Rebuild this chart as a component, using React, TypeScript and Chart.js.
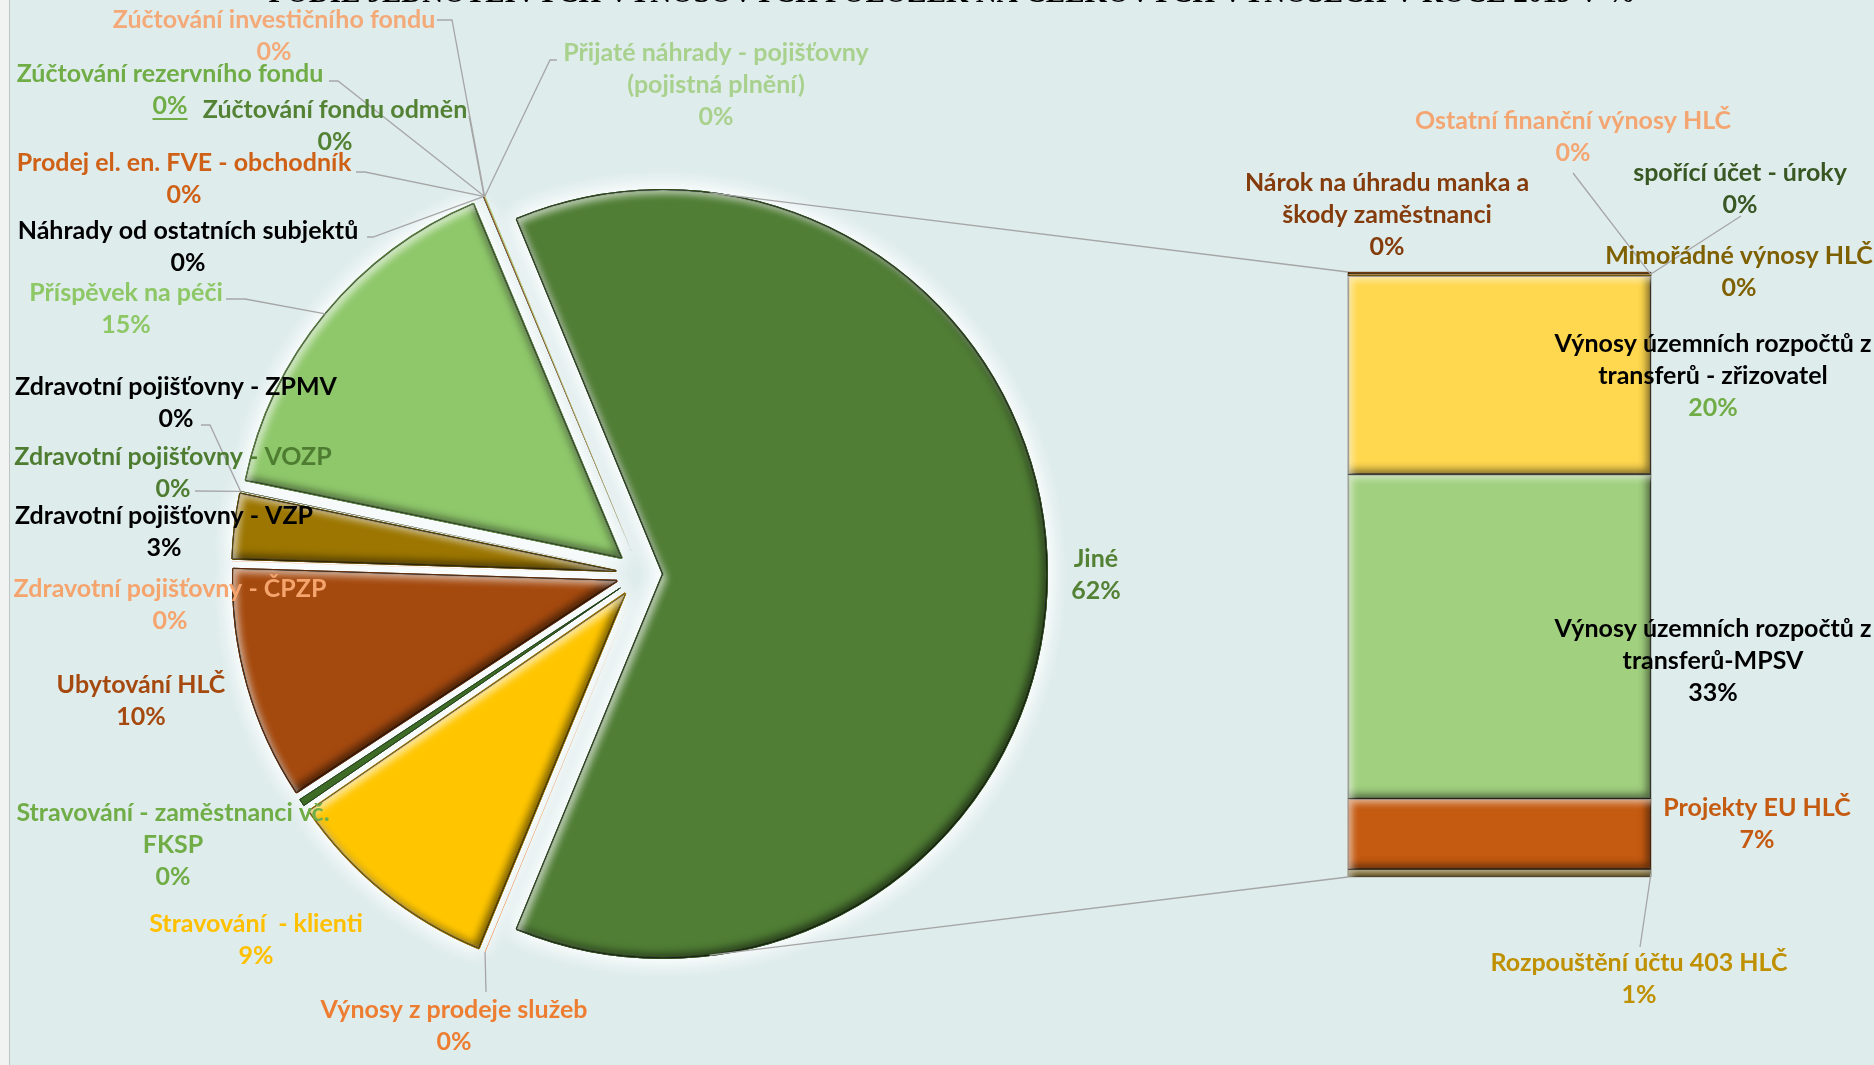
import React, { useEffect, useRef } from "react";
import { Chart, registerables } from "chart.js";

Chart.register(...registerables);

const W = 1874;
const H = 1065;

const TITLE = "PODÍL JEDNOTLIVÝCH VÝNOSOVÝCH POLOŽEK NA CELKOVÝCH VÝNOSECH V ROCE 2019 V %";

// ---- DATA ----
const otherCategory = "Jiné";
// primary pie categories, clockwise after "Jiné"
const pieCategories = [
  "Výnosy z prodeje služeb",
  "Stravování  - klienti",
  "Stravování - zaměstnanci vč.\nFKSP",
  "Ubytování HLČ",
  "Zdravotní pojišťovny - ČPZP",
  "Zdravotní pojišťovny - VZP",
  "Zdravotní pojišťovny - VOZP",
  "Zdravotní pojišťovny - ZPMV",
  "Příspěvek na péči",
  "Náhrady od ostatních subjektů",
  "Prodej el. en. FVE - obchodník",
  "Zúčtování fondu odměn",
  "Zúčtování rezervního fondu",
  "Zúčtování investičního fondu",
  "Přijaté náhrady - pojišťovny\n(pojistná plnění)",
];
const pieValues = [0.01, 9.1, 0.3, 9.7, 0.01, 2.7, 0.01, 0.01, 15.3, 0.02, 0.02, 0.01, 0.01, 0.01, 0.02];

// secondary bar categories, bottom to top
const barCategories = [
  "Rozpouštění účtu 403 HLČ",
  "Projekty EU HLČ",
  "Výnosy územních rozpočtů z\ntransferů-MPSV",
  "Výnosy územních rozpočtů z\ntransferů - zřizovatel",
  "Mimořádné výnosy HLČ",
  "Ostatní finanční výnosy HLČ",
  "spořící účet - úroky",
  "Nárok na úhradu manka a\nškody zaměstnanci",
];
const barValues = [0.8, 7.2, 33.2, 20.3, 0.1, 0.05, 0.1, 0.15];

// ---- STYLES / LAYOUT ----
const FONT = '700 25px Lato, "Noto Sans", sans-serif';
const LH = 32;
const LEADER = "#A6A6A6";

const PIE_CENTER = [641, 574];
const PIE_RADIUS = 384;

// index 0 = Jiné, then pieCategories
const pieColors = ["#507E35", "#ED7D31", "#FFC600", "#3E6B26", "#A54A0F", "#F4B183", "#9C7600", "#548235", "#2F2F2F", "#8FC86B", "#3F3F3F", "#C55A11", "#548235", "#70AD47", "#F4B183", "#A9D18E"];
const pieBorders = ["#2C4A1C", "#8A4512", "#9A7400", "#22401A", "#5E2A07", "#9A6A48", "#5A4400", "#2F4A1E", "#111111", "#557E3C", "#222222", "#6E320A", "#2F4A1E", "#40672A", "#9A6A48", "#6C8A58"];
const pieBorderWidths = [2, 0, 2, 1, 2, 0, 2, 0, 0, 2, 0, 0, 0, 0, 0, 0];
const pieExplode = [22, 25, 25, 25, 25, 25, 25, 25, 25, 25, 25, 25, 25, 25, 25, 25];
const pieLabelPos = [
  [1096, 559], [454, 1010], [256, 924], [173, 813], [141, 685], [170, 589], [164, 516], [173, 457],
  [176, 387], [126, 293], [188, 231], [184, 163], [335, 110], [170, 74], [274, 20], [716, 53],
];
const pieLabelColors = ["#548235", "#ED7D31", "#FFC000", "#70AD47", "#A5490F", "#F4A46C", "#000000", "#4E7D32", "#000000", "#8DC766", "#000000", "#CF6117", "#548235", "#70AD47", "#F4A978", "#A9D18E"];
const pieLeaders: (number[][] | null)[] = [
  null, [[486, 992]], null, null, null, null, null, [[195, 491]],
  [[201, 425], [210, 425]], [[226, 299], [245, 299]], [[367, 237], [373, 237]], [[356, 172], [365, 172]],
  [[469, 116]], [[329, 81], [338, 81]], [[437, 20], [452, 20]], [[557, 60], [550, 60]],
];
const pieUnderline = [false, false, false, false, false, false, false, false, false, false, false, false, false, true, false, false];

const BAR_BOX = { left: 1348, right: 1651, top: 272, bottom: 877 };
const barColors = ["#7F6000", "#C55A11", "#A1D07F", "#FFD84F", "#7F6000", "#F4B183", "#385723", "#843C0C"];
const barBorders = ["#4A3800", "#5E2A07", "#3E4A36", "#4A4030", "#4A3800", "#9A6A48", "#1F3012", "#4A2006"];
const barLabelPos = [[1639, 963], [1757, 808], [1713, 629], [1713, 344], [1739, 256], [1573, 121], [1740, 173], [1387, 183]];
const barLabelColors = ["#BF9000", "#C55A11", "#000000", "#000000", "#7F6000", "#F4A672", "#385723", "#843C0C"];
const barPctColors = [null, null, null, "#70AD47", null, null, null, null];
const barLeaders: (number[][] | null)[] = [[[1640, 947]], null, null, null, null, [[1573, 173]], [[1741, 216]], null];

const otherValue = barValues.reduce((a, b) => a + b, 0);
const total = otherValue + pieValues.reduce((a, b) => a + b, 0);
const pct = (v: number) => Math.round((v / total) * 100) + "%";

function drawLabel(ctx: CanvasRenderingContext2D, text: string, p: string, x: number, y: number, color: string, pctColor?: string | null, underline?: boolean) {
  const lines = text.split("\n");
  lines.push(p);
  ctx.save();
  ctx.font = FONT;
  ctx.textAlign = "center";
  ctx.textBaseline = "middle";
  lines.forEach((ln, k) => {
    const last = k === lines.length - 1;
    ctx.fillStyle = last && pctColor ? pctColor : color;
    ctx.fillText(ln, x, y + k * LH);
    if (last && underline) {
      const w = ctx.measureText(ln).width;
      ctx.strokeStyle = ctx.fillStyle as string;
      ctx.lineWidth = 2;
      ctx.beginPath();
      ctx.moveTo(x - w / 2, y + k * LH + 13);
      ctx.lineTo(x + w / 2, y + k * LH + 13);
      ctx.stroke();
    }
  });
  ctx.restore();
}

function drawPolyline(ctx: CanvasRenderingContext2D, pts: number[][]) {
  ctx.save();
  ctx.strokeStyle = LEADER;
  ctx.lineWidth = 1.3;
  ctx.beginPath();
  pts.forEach((p, i) => (i === 0 ? ctx.moveTo(p[0], p[1]) : ctx.lineTo(p[0], p[1])));
  ctx.stroke();
  ctx.restore();
}

// inner bevel: dark inner shadow bottom-right, light inner shadow top-left
function bevel(ctx: CanvasRenderingContext2D, path: (c: CanvasRenderingContext2D) => void, box: number[], strength = 1) {
  const pass = (color: string, ox: number, oy: number, blur: number) => {
    ctx.save();
    ctx.beginPath();
    path(ctx);
    ctx.clip();
    ctx.beginPath();
    ctx.rect(box[0] - 80, box[1] - 80, box[2] + 160, box[3] + 160);
    path(ctx);
    ctx.shadowColor = color;
    ctx.shadowBlur = blur;
    ctx.shadowOffsetX = ox;
    ctx.shadowOffsetY = oy;
    ctx.fillStyle = "#000";
    ctx.fill("evenodd");
    ctx.restore();
  };
  pass(`rgba(0,0,0,${0.55 * strength})`, -4, -4, 9);
  pass(`rgba(255,255,255,${0.6 * strength})`, 4, 4, 7);
}

function arcShift(arc: any, i: number) {
  const mid = (arc.startAngle + arc.endAngle) / 2;
  return [Math.cos(mid) * pieExplode[i], Math.sin(mid) * pieExplode[i]];
}

export default function App() {
  const pieRef = useRef<HTMLCanvasElement>(null);
  const barRef = useRef<HTMLCanvasElement>(null);

  useEffect(() => {
    const rotation = 90 - (otherValue / total) * 180;

    const piePlugin = {
      id: "pieExploded",
      beforeDatasetDraw(chart: any, args: any) {
        const ctx = chart.ctx as CanvasRenderingContext2D;
        const arcs = chart.getDatasetMeta(args.index).data;
        // glow pass
        for (let pass = 0; pass < 2; pass++) {
          ctx.save();
          ctx.shadowColor = "rgba(255,255,255,0.95)";
          ctx.shadowBlur = 20;
          arcs.forEach((arc: any, i: number) => {
            const [dx, dy] = arcShift(arc, i);
            ctx.save();
            ctx.translate(dx, dy);
            arc.draw(ctx);
            ctx.restore();
          });
          ctx.restore();
        }
        arcs.forEach((arc: any, i: number) => {
          const [dx, dy] = arcShift(arc, i);
          ctx.save();
          ctx.translate(dx, dy);
          arc.draw(ctx);
          if (arc.endAngle - arc.startAngle > 0.03) {
            const { x, y, outerRadius: R, startAngle: s, endAngle: e } = arc;
            bevel(
              ctx,
              (c) => {
                c.moveTo(x, y);
                c.arc(x, y, R, s, e);
                c.closePath();
              },
              [x - R, y - R, 2 * R, 2 * R]
            );
          }
          ctx.restore();
        });
        return false;
      },
      afterDraw(chart: any) {
        const ctx = chart.ctx as CanvasRenderingContext2D;
        const arcs = chart.getDatasetMeta(0).data;
        const names = [otherCategory, ...pieCategories];
        const vals = [otherValue, ...pieValues];
        arcs.forEach((arc: any, i: number) => {
          const lead = pieLeaders[i];
          if (lead) {
            const mid = (arc.startAngle + arc.endAngle) / 2;
            const r = arc.outerRadius + pieExplode[i];
            drawPolyline(ctx, [...lead, [arc.x + Math.cos(mid) * r, arc.y + Math.sin(mid) * r]]);
          }
        });
        names.forEach((n, i) => {
          drawLabel(ctx, n, pct(vals[i]), pieLabelPos[i][0], pieLabelPos[i][1], pieLabelColors[i], null, pieUnderline[i]);
        });
        ctx.save();
        ctx.font = 'bold 29px "Liberation Serif", serif';
        ctx.fillStyle = "#000";
        ctx.textAlign = "center";
        ctx.textBaseline = "alphabetic";
        ctx.fillText(TITLE, 952, 2);
        ctx.restore();
      },
    };

    const pieChart = new Chart(pieRef.current as HTMLCanvasElement, {
      type: "pie",
      data: {
        labels: [otherCategory, ...pieCategories],
        datasets: [
          {
            data: [otherValue, ...pieValues],
            backgroundColor: pieColors,
            borderColor: pieBorders,
            borderWidth: pieBorderWidths,
            offset: 0,
          } as any,
        ],
      },
      options: {
        responsive: false,
        animation: false,
        events: [],
        rotation,
        radius: PIE_RADIUS,
        layout: { padding: { left: 0, right: W - 2 * PIE_CENTER[0], top: 2 * PIE_CENTER[1] - H, bottom: 0 } },
        plugins: { legend: { display: false }, tooltip: { enabled: false } },
      } as any,
      plugins: [piePlugin as any],
    });

    const barPlugin = {
      id: "barExtras",
      beforeDatasetsDraw(chart: any) {
        const ctx = chart.ctx as CanvasRenderingContext2D;
        ctx.save();
        ctx.shadowColor = "rgba(255,255,255,0.95)";
        ctx.shadowBlur = 20;
        for (let pass = 0; pass < 2; pass++) {
          chart.data.datasets.forEach((_d: any, di: number) => {
            chart.getDatasetMeta(di).data.forEach((el: any) => el.draw(ctx));
          });
        }
        ctx.restore();
      },
      afterDatasetsDraw(chart: any) {
        const ctx = chart.ctx as CanvasRenderingContext2D;
        chart.data.datasets.forEach((_d: any, di: number) => {
          chart.getDatasetMeta(di).data.forEach((el: any) => {
            const h = el.base - el.y;
            if (h < 5) return;
            const l = el.x - el.width / 2;
            bevel(ctx, (c) => c.rect(l, el.y, el.width, h), [l, el.y, el.width, h]);
          });
        });
      },
      afterDraw(chart: any) {
        const ctx = chart.ctx as CanvasRenderingContext2D;
        const n = chart.data.datasets.length;
        const topEl: any = chart.getDatasetMeta(n - 1).data[0];
        const botEl: any = chart.getDatasetMeta(0).data[0];
        const left = topEl.x - topEl.width / 2;
        const pTop = [left, topEl.y];
        const pBot = [left, botEl.base];
        // connectors tangent to the "Jiné" slice
        const jine: any = pieChart.getDatasetMeta(0).data[0];
        const [sx, sy] = arcShift(jine, 0);
        const cx = jine.x + sx;
        const cy = jine.y + sy;
        const R = jine.outerRadius;
        [pTop, pBot].forEach((P, k) => {
          const d = Math.hypot(P[0] - cx, P[1] - cy);
          const th = Math.atan2(P[1] - cy, P[0] - cx);
          const al = Math.acos(R / d);
          const a1 = th - al;
          const a2 = th + al;
          const t1 = [cx + R * Math.cos(a1), cy + R * Math.sin(a1)];
          const t2 = [cx + R * Math.cos(a2), cy + R * Math.sin(a2)];
          const t = k === 0 ? (t1[1] < t2[1] ? t1 : t2) : (t1[1] > t2[1] ? t1 : t2);
          drawPolyline(ctx, [t, P]);
        });
        // leaders and labels
        chart.data.datasets.forEach((_d: any, i: number) => {
          const el: any = chart.getDatasetMeta(i).data[0];
          const lead = barLeaders[i];
          if (lead) {
            drawPolyline(ctx, [...lead, [el.x + el.width / 2, (el.y + el.base) / 2]]);
          }
        });
        barCategories.forEach((c, i) => {
          drawLabel(ctx, c, pct(barValues[i]), barLabelPos[i][0], barLabelPos[i][1], barLabelColors[i], barPctColors[i]);
        });
      },
    };

    const barChart = new Chart(barRef.current as HTMLCanvasElement, {
      type: "bar",
      data: {
        labels: [otherCategory],
        datasets: barCategories.map((c, i) => ({
          label: c,
          data: [barValues[i]],
          backgroundColor: barColors[i],
          borderColor: barBorders[i],
          borderWidth: 1.5,
          borderSkipped: false,
          barPercentage: 1,
          categoryPercentage: 1,
          clip: false,
        })) as any,
      },
      options: {
        responsive: false,
        animation: false,
        events: [],
        layout: { padding: { left: BAR_BOX.left, right: W - BAR_BOX.right, top: BAR_BOX.top, bottom: H - BAR_BOX.bottom } },
        scales: {
          x: { stacked: true, display: false },
          y: { stacked: true, display: false, min: 0, max: otherValue },
        },
        plugins: { legend: { display: false }, tooltip: { enabled: false } },
      } as any,
      plugins: [barPlugin as any],
    });

    return () => {
      pieChart.destroy();
      barChart.destroy();
    };
  }, []);

  return (
    <div style={{ position: "fixed", left: 0, top: 0, width: W, height: H, background: "#F1F3F3", overflow: "hidden" }}>
      <div style={{ position: "absolute", left: 9, top: 0, right: 0, bottom: 0, background: "#DFECEC", borderLeft: "1px solid #BEC4C4" }} />
      <canvas ref={pieRef} width={W} height={H} style={{ position: "absolute", left: 0, top: 0 }} />
      <canvas ref={barRef} width={W} height={H} style={{ position: "absolute", left: 0, top: 0 }} />
    </div>
  );
}
